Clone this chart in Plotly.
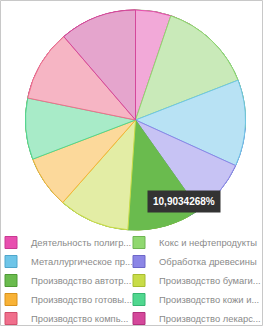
import plotly.graph_objects as go

labels = ["Деятельность полигр...", "Кокс и нефтепродукты", "Металлургическое пр...",
          "Обработка древесины", "Производство автотр...", "Производство бумаги...",
          "Производство готовы...", "Производство кожи и...", "Производство компь...",
          "Производство лекарс..."]
values = [5.2, 13.9, 12.7, 8.4, 10.9034268, 10.4, 7.7, 9.0, 10.5, 11.3]
legend_colors = ["#e84faf", "#90d870", "#6ec5e8", "#8c86e6", "#6abb4e",
                 "#c8dc48", "#f8b236", "#50d78f", "#f06f8c", "#d4489b"]
legend_borders = ["#c83a92", "#6fb552", "#4fa6cb", "#6d67c8", "#4f9a36",
                  "#a8bc30", "#d8921c", "#35b572", "#d04f6c", "#b2307c"]
slice_colors = ["#f2a9d8", "#c9eab9", "#b8e2f4", "#c7c3f4", "#6abb4e",
                "#e3eda5", "#fcd99b", "#a8ebc8", "#f6b5c4", "#e5a5cd"]
tooltip_text = "10,9034268%"

W, H = 264, 328
MB = 98                     # bottom margin reserved for the legend
PH = H - MB                 # plot area height (pixels, top = 0)
cx, cy, R = 135.5, 120, 110
dom_x = [(cx - R) / W, (cx + R) / W]
dom_y = [max(0.0, 1 - (cy + R) / PH), 1 - (cy - R) / PH]

FONT = "Liberation Sans, Arial, sans-serif"

fig = go.Figure()
# Legend-carrying pies (saturated colours), drawn underneath the visible pie.
# Entries are split in two columns (row-major order, as in the reference).
for col, leg in ((0, "legend"), (1, "legend2")):
    idx = list(range(col, len(labels), 2))
    fig.add_trace(go.Pie(
        labels=[labels[i] for i in idx], values=[values[i] for i in idx],
        sort=False, direction="clockwise", rotation=0,
        marker=dict(colors=[legend_colors[i] for i in idx],
                    line=dict(color=[legend_borders[i] for i in idx], width=1)),
        textinfo="none", hoverinfo="skip", domain=dict(x=dom_x, y=dom_y),
        showlegend=True, legend=leg,
    ))
# Visible pie (light fills, saturated outlines; hovered slice highlighted)
fig.add_trace(go.Pie(
    labels=labels, values=values, sort=False, direction="clockwise", rotation=0,
    marker=dict(colors=slice_colors, line=dict(color=legend_colors, width=1)),
    textinfo="none", domain=dict(x=dom_x, y=dom_y), showlegend=False,
))

fig.add_annotation(
    x=183.5 / W, y=1 - 201.5 / PH, xref="paper", yref="paper",
    xanchor="center", yanchor="middle",
    text="<b>" + tooltip_text + "</b>", showarrow=False,
    font=dict(family=FONT, size=10, color="#ffffff"),
    bgcolor="#333333", borderpad=5,
)

# outer frame (pixel -> paper coords relative to plot area)
fig.add_shape(type="rect", xref="paper", yref="paper",
              x0=0.5 / W, x1=262.5 / W, y0=(PH - 325.5) / PH, y1=(PH - 0.5) / PH,
              line=dict(color="#c8c8c8", width=1), fillcolor="rgba(0,0,0,0)", layer="above")

leg_common = dict(
    orientation="v", yanchor="top", xanchor="left",
    itemwidth=30, font=dict(family=FONT, size=9.4, color="#8a8a8a"),
    bgcolor="rgba(0,0,0,0)", traceorder="normal",
)
fig.update_layout(
    width=W, height=H,
    margin=dict(l=0, r=0, t=0, b=MB, autoexpand=False),
    paper_bgcolor="#ffffff", plot_bgcolor="#ffffff",
    font=dict(family=FONT, size=10, color="#8a8a8a"),
    legend=dict(x=-9 / W, y=(PH - 228) / PH, **leg_common),
    legend2=dict(x=119 / W, y=(PH - 228) / PH, **leg_common),
)

fig.write_html("out.html")
